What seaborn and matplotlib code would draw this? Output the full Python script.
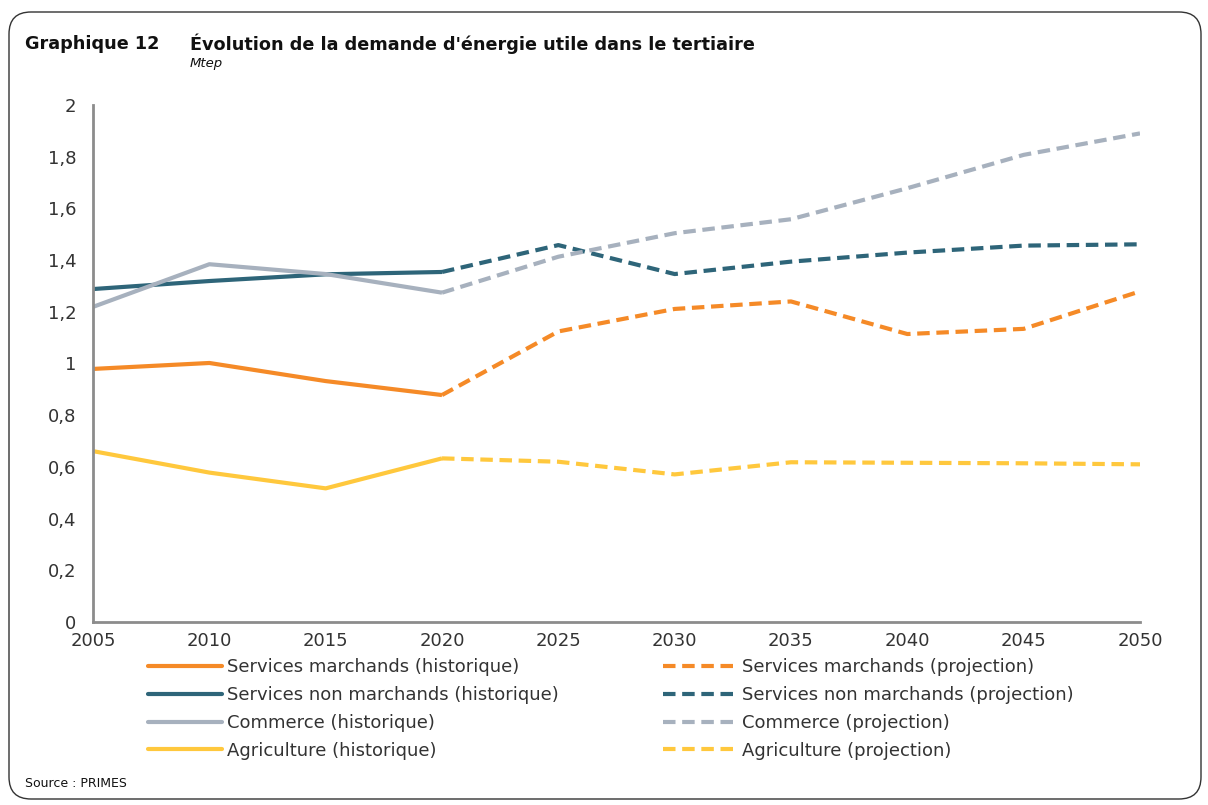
import matplotlib
matplotlib.use("Agg")
import matplotlib.pyplot as plt
import seaborn as sns
from matplotlib.lines import Line2D
from matplotlib.patches import FancyBboxPatch
from matplotlib.ticker import FuncFormatter
from matplotlib.transforms import IdentityTransform

# Données (Mtep)
annees = [2005, 2010, 2015, 2020, 2025, 2030, 2035, 2040, 2045, 2050]
services_marchands = [0.979, 1.002, 0.932, 0.878, 1.124, 1.211, 1.240, 1.114, 1.134, 1.279]
services_non_marchands = [1.288, 1.319, 1.345, 1.354, 1.458, 1.346, 1.394, 1.429, 1.456, 1.461]
commerce = [1.219, 1.384, 1.346, 1.274, 1.413, 1.504, 1.558, 1.678, 1.807, 1.890]
agriculture = [0.661, 0.578, 0.517, 0.633, 0.620, 0.571, 0.618, 0.616, 0.614, 0.610]

series = ["Services marchands", "Services non marchands", "Commerce", "Agriculture"]
valeurs = [services_marchands, services_non_marchands, commerce, agriculture]
couleurs = ["#F58A27", "#2E6579", "#A7B1BE", "#FFC83D"]
annee_bascule = 2020

sns.set_style("white")
plt.rcParams['font.family'] = ['DejaVu Sans']

fig = plt.figure(figsize=(12.08, 8.05), dpi=100)
ax = fig.add_axes([0.077, 0.2273, 0.8667, 0.6423])

idx = annees.index(annee_bascule)
for nom, vals, coul in zip(series, valeurs, couleurs):
    # historique
    sns.lineplot(x=annees[:idx + 1], y=vals[:idx + 1], ax=ax, color=coul,
                 linewidth=3, solid_capstyle='butt')
    # projection
    sns.lineplot(x=annees[idx:], y=vals[idx:], ax=ax, color=coul,
                 linewidth=3, dashes=False)
    ax.lines[-1].set_dashes((3, 1.6))
    ax.lines[-1].set_dash_capstyle('butt')

ax.set_xlim(2005, 2050)
ax.set_ylim(0, 2)
ax.set_xticks(annees)
ax.set_yticks([0, 0.2, 0.4, 0.6, 0.8, 1, 1.2, 1.4, 1.6, 1.8, 2])
ax.yaxis.set_major_formatter(FuncFormatter(lambda v, p: f"{v:g}".replace('.', ',')))
ax.set_xlabel('')
ax.set_ylabel('')

for s in ['top', 'right']:
    ax.spines[s].set_visible(False)
for s in ['left', 'bottom']:
    ax.spines[s].set_color('#8C8C8C')
    ax.spines[s].set_linewidth(2)
ax.tick_params(axis='both', which='major', direction='out', length=5, width=2,
               color='#8C8C8C', labelcolor='#333333', labelsize=13, pad=2)
ax.tick_params(axis='y', pad=7)

# Légende sur deux colonnes
hist_handles = [Line2D([0], [0], color=c, linewidth=3) for c in couleurs]
proj_handles = [Line2D([0], [0], color=c, linewidth=3, dashes=(3, 1.6)) for c in couleurs]
leg_kw = dict(frameon=False, fontsize=13, handlelength=4.1, handletextpad=0.3,
              labelspacing=0.55, labelcolor='#333333', borderpad=0, borderaxespad=0)
fig.legend(hist_handles, [f"{n} (historique)" for n in series],
           loc='upper left', bbox_to_anchor=(148 / 1208, 1 - 658 / 805), **leg_kw)
fig.legend(proj_handles, [f"{n} (projection)" for n in series],
           loc='upper left', bbox_to_anchor=(663 / 1208, 1 - 658 / 805), **leg_kw)

# Titres et source
fig.text(25 / 1208, 1 - 44 / 805, "Graphique 12", fontsize=12.7, fontweight='bold',
         va='center', ha='left', color='#111111')
fig.text(190 / 1208, 1 - 44 / 805, "Évolution de la demande d'énergie utile dans le tertiaire",
         fontsize=12.7, fontweight='bold', va='center', ha='left', color='#111111')
fig.text(190 / 1208, 1 - 64 / 805, "Mtep", fontsize=9.5, style='italic',
         va='center', ha='left', color='#111111')
fig.text(25 / 1208, 1 - 783 / 805, "Source : PRIMES", fontsize=9,
         va='center', ha='left', color='#111111')

# Cadre arrondi
cadre = FancyBboxPatch((9, 6), 1192, 787, boxstyle="round,pad=0,rounding_size=22",
                       transform=IdentityTransform(), fill=False,
                       edgecolor='#333333', linewidth=1)
fig.patches.append(cadre)

fig.savefig("out.png", dpi=100)
